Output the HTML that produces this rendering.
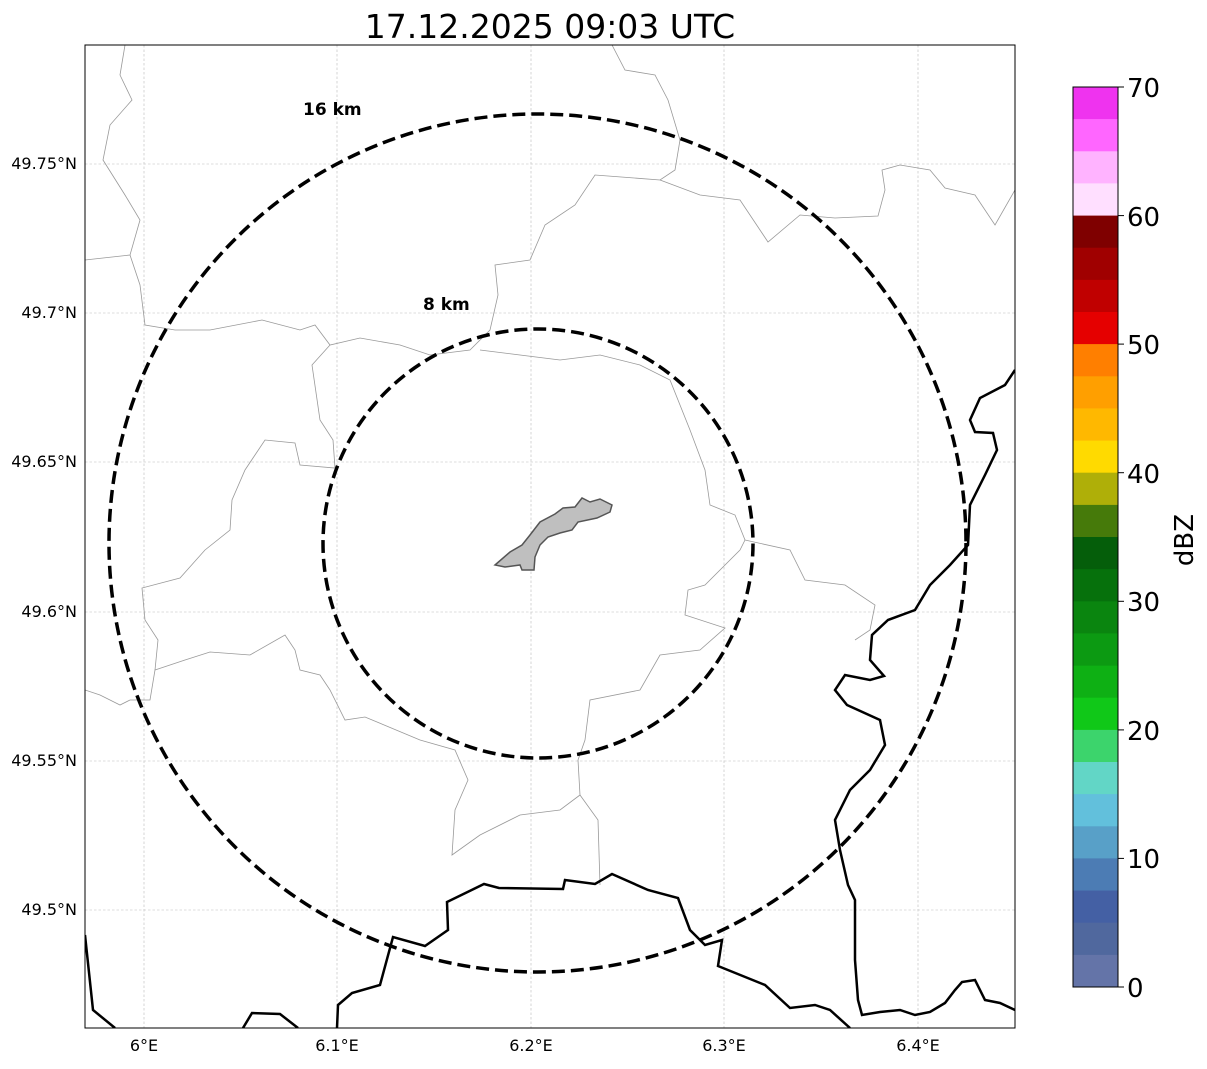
<!DOCTYPE html><html><head><style>body{margin:0;background:#fff}</style></head><body>
<svg width="1207" height="1064" xmlns="http://www.w3.org/2000/svg" font-family="DejaVu Sans, Liberation Sans, sans-serif">
<rect width="1207" height="1064" fill="#fff"/>
<text x="550" y="38" font-size="33" text-anchor="middle">17.12.2025 09:03 UTC</text>
<defs><clipPath id="c"><rect x="85" y="45" width="930" height="983"/></clipPath></defs>
<g clip-path="url(#c)">
<g stroke="#bbb" stroke-width="0.6" stroke-dasharray="2.5,2">
<line x1="144" y1="45" x2="144" y2="1028"/><line x1="337" y1="45" x2="337" y2="1028"/><line x1="531" y1="45" x2="531" y2="1028"/><line x1="724" y1="45" x2="724" y2="1028"/><line x1="918" y1="45" x2="918" y2="1028"/>
<line x1="85" y1="164" x2="1015" y2="164"/><line x1="85" y1="313" x2="1015" y2="313"/><line x1="85" y1="462" x2="1015" y2="462"/><line x1="85" y1="612" x2="1015" y2="612"/><line x1="85" y1="761" x2="1015" y2="761"/><line x1="85" y1="910" x2="1015" y2="910"/>
</g>
<g fill="none" stroke="#999" stroke-width="0.8">
<path d="M125,45 L120,75 L132,100 L110,125 L103,160 L125,195 L140,220 L130,255 L85,260"/>
<path d="M130,255 L140,285 L145,325 L175,330 L210,330 L262,320 L300,330 L315,325 L330,345 L360,338 L400,345 L430,355 L470,350 L490,330 L498,295 L495,265 L530,260 L545,225 L575,205 L595,175 L660,180 L675,170 L680,140 L668,100 L655,75 L625,70 L612,45"/>
<path d="M660,180 L700,195 L740,200 L768,242 L800,215 L835,218 L878,216 L885,190 L882,170 L900,165 L930,170 L945,188 L975,195 L995,225 L1015,190"/>
<path d="M330,345 L312,365 L320,420 L333,440 L335,468 L300,465 L295,443 L265,440 L245,470 L232,500 L230,530 L205,550 L180,578 L142,588 L145,620 L158,640 L155,670 L150,700 L130,700 L120,705 L100,695 L85,690"/>
<path d="M155,670 L185,660 L210,652 L250,655 L285,635 L295,650 L300,670 L320,675 L330,690 L345,720 L365,717 L420,740 L455,750 L468,780 L455,810 L452,855 L480,835 L520,815 L560,810 L580,795 L578,760"/>
<path d="M580,795 L598,820 L600,885"/>
<path d="M480,350 L520,355 L560,360 L600,355 L640,365 L670,380 L690,430 L705,470 L710,505 L735,515 L745,540 L740,550 L705,585 L688,590 L685,615 L725,628 L700,650 L660,655 L640,690 L590,700 L585,740 L578,760"/>
<path d="M745,540 L790,550 L805,580 L845,585 L875,605 L870,630 L855,640"/>
</g>
<g fill="none" stroke="#000" stroke-width="2.5">
<path d="M85,935 L93,1010 L115,1028"/>
<path d="M243,1028 L252,1013 L280,1014 L298,1028"/>
<path d="M337,1028 L338,1005 L352,993 L380,985 L393,937 L425,946 L448,930 L447,902 L484,884 L499,888 L563,889 L565,880 L595,884 L612,874 L648,890 L678,898 L690,930 L705,945 L722,940 L718,966 L765,985 L790,1008 L815,1005 L830,1010 L850,1028"/>
<path d="M1015,370 L1005,385 L980,398 L970,420 L975,432 L993,433 L997,450 L985,475 L970,505 L968,545 L950,565 L930,585 L915,610 L888,620 L872,635 L870,660 L884,676 L870,680 L845,675 L835,690 L847,705 L880,720 L885,745 L870,770 L850,790 L835,820 L840,850 L848,885 L855,900 L855,960 L858,1000 L862,1015 L880,1012 L900,1010 L915,1015 L930,1012 L945,1003 L955,990 L962,982 L975,980 L985,1000 L1000,1003 L1015,1010"/>
</g>
<path d="M495,565 L510,552 L522,545 L530,535 L540,522 L555,514 L563,508 L575,507 L582,498 L590,502 L600,499 L612,505 L610,512 L597,518 L578,522 L572,530 L560,533 L548,537 L540,545 L535,557 L534,570 L522,570 L520,565 L505,567 Z" fill="#bfbfbf" stroke="#555" stroke-width="1.5"/>
<ellipse cx="537.5" cy="543" rx="428.5" ry="429" fill="none" stroke="#000" stroke-width="3.5" stroke-dasharray="13,6"/>
<ellipse cx="538" cy="543.5" rx="215" ry="214.5" fill="none" stroke="#000" stroke-width="3.5" stroke-dasharray="13,6"/>
</g>
<rect x="85" y="45" width="930" height="983" fill="none" stroke="#000" stroke-width="1"/>
<text x="303" y="115" font-size="17" font-weight="bold">16 km</text>
<text x="423" y="310" font-size="17" font-weight="bold">8 km</text>
<g font-size="16" text-anchor="end">
<text x="77" y="169">49.75°N</text><text x="77" y="318">49.7°N</text><text x="77" y="467">49.65°N</text><text x="77" y="617">49.6°N</text><text x="77" y="766">49.55°N</text><text x="77" y="915">49.5°N</text>
</g>
<g font-size="16" text-anchor="middle">
<text x="144" y="1051">6°E</text><text x="337" y="1051">6.1°E</text><text x="531" y="1051">6.2°E</text><text x="724" y="1051">6.3°E</text><text x="918" y="1051">6.4°E</text>
</g>
<g>
<rect x="1073" y="87.0" width="45" height="33" fill="#ef33ef"/>
<rect x="1073" y="119.1" width="45" height="33" fill="#ff66ff"/>
<rect x="1073" y="151.3" width="45" height="33" fill="#ffb3ff"/>
<rect x="1073" y="183.4" width="45" height="33" fill="#ffdfff"/>
<rect x="1073" y="215.6" width="45" height="33" fill="#7f0000"/>
<rect x="1073" y="247.7" width="45" height="33" fill="#a00000"/>
<rect x="1073" y="279.9" width="45" height="33" fill="#c00000"/>
<rect x="1073" y="312.0" width="45" height="33" fill="#e50000"/>
<rect x="1073" y="344.1" width="45" height="33" fill="#ff7f00"/>
<rect x="1073" y="376.3" width="45" height="33" fill="#ff9f00"/>
<rect x="1073" y="408.4" width="45" height="33" fill="#ffb800"/>
<rect x="1073" y="440.6" width="45" height="33" fill="#ffda00"/>
<rect x="1073" y="472.7" width="45" height="33" fill="#afaf08"/>
<rect x="1073" y="504.9" width="45" height="33" fill="#467a0a"/>
<rect x="1073" y="537.0" width="45" height="33" fill="#055e0a"/>
<rect x="1073" y="569.1" width="45" height="33" fill="#06710c"/>
<rect x="1073" y="601.3" width="45" height="33" fill="#0a850f"/>
<rect x="1073" y="633.4" width="45" height="33" fill="#0c9a12"/>
<rect x="1073" y="665.6" width="45" height="33" fill="#0eb014"/>
<rect x="1073" y="697.7" width="45" height="33" fill="#10c818"/>
<rect x="1073" y="729.9" width="45" height="33" fill="#3cd46c"/>
<rect x="1073" y="762.0" width="45" height="33" fill="#62d6c6"/>
<rect x="1073" y="794.1" width="45" height="33" fill="#62c0dc"/>
<rect x="1073" y="826.3" width="45" height="33" fill="#58a0c8"/>
<rect x="1073" y="858.4" width="45" height="33" fill="#4c7cb4"/>
<rect x="1073" y="890.6" width="45" height="33" fill="#4460a4"/>
<rect x="1073" y="922.7" width="45" height="33" fill="#50689e"/>
<rect x="1073" y="954.9" width="45" height="32.1" fill="#6474a8"/>
<rect x="1073" y="87" width="45" height="900" fill="none" stroke="#000" stroke-width="1"/>
</g>
<g stroke="#000" stroke-width="1">
<line x1="1118" y1="87" x2="1124" y2="87"/><line x1="1118" y1="215.6" x2="1124" y2="215.6"/><line x1="1118" y1="344.1" x2="1124" y2="344.1"/><line x1="1118" y1="472.7" x2="1124" y2="472.7"/><line x1="1118" y1="601.3" x2="1124" y2="601.3"/><line x1="1118" y1="729.9" x2="1124" y2="729.9"/><line x1="1118" y1="858.4" x2="1124" y2="858.4"/><line x1="1118" y1="987" x2="1124" y2="987"/>
</g>
<g font-size="26">
<text x="1127" y="97">70</text><text x="1127" y="226">60</text><text x="1127" y="354">50</text><text x="1127" y="483">40</text><text x="1127" y="611">30</text><text x="1127" y="740">20</text><text x="1127" y="868">10</text><text x="1127" y="997">0</text>
</g>
<text transform="translate(1193,540) rotate(-90)" font-size="26" text-anchor="middle">dBZ</text>
</svg>
</body></html>
